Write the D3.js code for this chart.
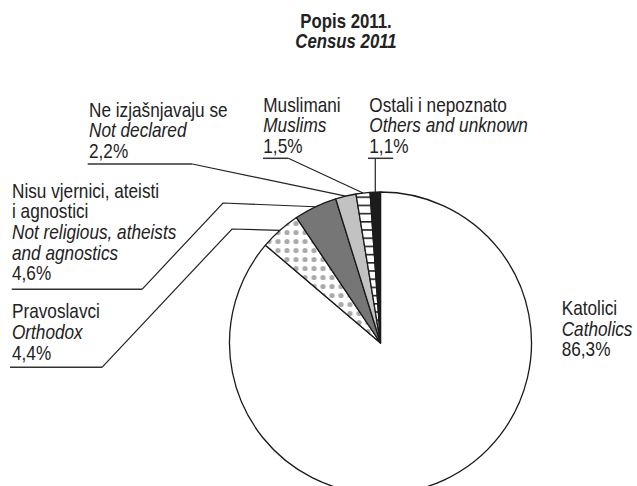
<!DOCTYPE html>
<html>
<head>
<meta charset="utf-8">
<script src="https://cdn.jsdelivr.net/npm/d3@7"></script>
<style>
  html, body { margin: 0; padding: 0; background: #fff; }
  svg { display: block; }
  text { font-family: "Liberation Sans", Arial, sans-serif; fill: #222; }
</style>
</head>
<body>
<svg id="chart" width="637" height="486"></svg>
<script>
// ---- data ----
const titleLines = ["Popis 2011.", "Census 2011"];
const values = [86.3, 4.4, 4.6, 2.2, 1.5, 1.1];
const namesHr = [["Katolici"], ["Pravoslavci"], ["Nisu vjernici, ateisti", "i agnostici"], ["Ne izjašnjavaju se"], ["Muslimani"], ["Ostali i nepoznato"]];
const namesEn = [["Catholics"], ["Orthodox"], ["Not religious, atheists", "and agnostics"], ["Not declared"], ["Muslims"], ["Others and unknown"]];
const valueLabels = ["86,3%", "4,4%", "4,6%", "2,2%", "1,5%", "1,1%"];

// ---- layout ----
const W = 637, H = 486;
const cx = 380.5, cy = 343, R = 151;
const fontSize = 20, sx = 0.86, lineH = 20.6;
const fills = ["#ffffff", "url(#dots)", "#767676", "#c2c2c2", "url(#stripes)", "#1c1c1c"];
const layout = [
  { x: 561.7, y0: 315 },
  { x: 12, y0: 318.3, ul: [10, 102, 367.3], elbow: [232, 229] },
  { x: 12, y0: 197.7, ul: [11.7, 142, 289.3], elbow: [223, 203] },
  { x: 89, y0: 116.7, ul: [87.7, 192.3, 164] },
  { x: 263.3, y0: 111.7, ul: [263, 288.3, 158.3] },
  { x: 369.3, y0: 111.7, ul: [368, 393.3, 158.3], vertical: true }
];

const svg = d3.select("#chart");
const defs = svg.append("defs");

// dotted pattern
const pd = defs.append("pattern").attr("id", "dots").attr("patternUnits", "userSpaceOnUse")
  .attr("width", 9).attr("height", 9).attr("x", 1).attr("y", 2);
pd.append("rect").attr("width", 9).attr("height", 9).attr("fill", "#fff");
pd.append("circle").attr("cx", 4.5).attr("cy", 4.5).attr("r", 2.6).attr("fill", "#aaaaaa");

// striped pattern
const ps = defs.append("pattern").attr("id", "stripes").attr("patternUnits", "userSpaceOnUse")
  .attr("width", 8).attr("height", 8.2).attr("y", 1);
ps.append("rect").attr("width", 8).attr("height", 8.2).attr("fill", "#fff");
ps.append("rect").attr("x", 0).attr("y", 0).attr("width", 8).attr("height", 1.6).attr("fill", "#222");

// title
titleLines.forEach((t, i) => {
  svg.append("text")
    .attr("transform", `translate(346,${27.7 + i * 20.6}) scale(0.84,1)`)
    .attr("text-anchor", "middle")
    .attr("font-size", fontSize)
    .attr("font-weight", "bold")
    .attr("font-style", i === 1 ? "italic" : "normal")
    .text(t);
});

// pie
const pie = d3.pie().sort(null).value(d => d);
const arcs = pie(values);
const arc = d3.arc().innerRadius(0).outerRadius(R);
const g = svg.append("g").attr("transform", `translate(${cx},${cy})`);
g.selectAll("path.slice").data(arcs).join("path")
  .attr("class", "slice")
  .attr("d", arc)
  .attr("fill", (d, i) => fills[i])
  .attr("stroke", "#1a1a1a")
  .attr("stroke-width", 1.3)
  .attr("stroke-linejoin", "round");

// labels + leader lines
arcs.forEach((a, i) => {
  const L = layout[i];
  const lines = [];
  namesHr[i].forEach(t => lines.push({ t, it: false }));
  namesEn[i].forEach(t => lines.push({ t, it: true }));
  lines.push({ t: valueLabels[i], it: false });
  lines.forEach((ln, k) => {
    svg.append("text")
      .attr("transform", `translate(${L.x},${L.y0 + k * lineH}) scale(${sx},1)`)
      .attr("font-size", fontSize)
      .attr("font-style", ln.it ? "italic" : "normal")
      .text(ln.t);
  });
  if (L.ul) {
    const mid = (a.startAngle + a.endAngle) / 2;
    const px = cx + R * Math.sin(mid);
    const py = cy - R * Math.cos(mid);
    svg.append("line")
      .attr("x1", L.ul[0]).attr("x2", L.ul[1]).attr("y1", L.ul[2]).attr("y2", L.ul[2])
      .attr("stroke", "#333").attr("stroke-width", 1.5);
    let pts;
    if (L.vertical) {
      pts = [[px, L.ul[2]], [px, py]];
    } else if (L.elbow) {
      pts = [[L.ul[1], L.ul[2]], L.elbow, [px, py]];
    } else {
      pts = [[L.ul[1], L.ul[2]], [px, py]];
    }
    svg.append("path")
      .attr("d", d3.line()(pts))
      .attr("fill", "none")
      .attr("stroke", "#222")
      .attr("stroke-width", 1.2);
  }
});
</script>
</body>
</html>
